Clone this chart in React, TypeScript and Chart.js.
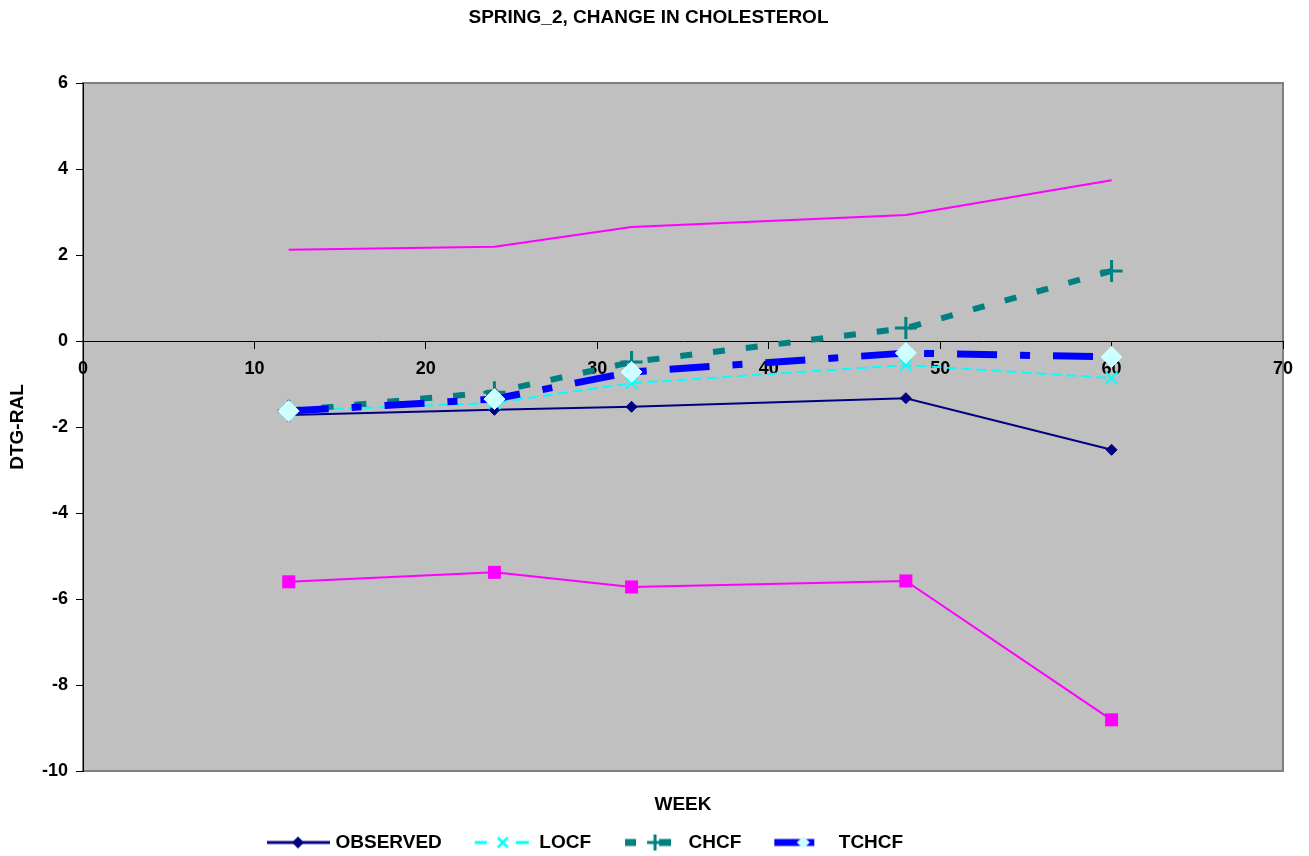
import React, { useEffect, useRef } from 'react';
import { Chart, registerables } from 'chart.js';

Chart.register(...registerables);

const TITLE = 'SPRING_2, CHANGE IN CHOLESTEROL';
const X_TITLE = 'WEEK';
const Y_TITLE = 'DTG-RAL';

const weeks = [12, 24, 32, 48, 60];
const observed = [-1.72, -1.6, -1.53, -1.33, -2.53];
const locf = [-1.62, -1.44, -0.98, -0.56, -0.86];
const chcf = [-1.62, -1.19, -0.49, 0.3, 1.63];
const tchcf = [-1.63, -1.35, -0.72, -0.28, -0.37];
const upperBound = [2.12, 2.19, 2.65, 2.93, 3.74];
const lowerBound = [-5.6, -5.38, -5.72, -5.58, -8.81];

const legendLabels = ['OBSERVED', 'LOCF', 'CHCF', 'TCHCF'];

const X_MIN = 0;
const X_MAX = 70;
const X_STEP = 10;
const Y_MIN = -10;
const Y_MAX = 6;
const Y_STEP = 2;

const FONT = 'Liberation Sans, Arial, Helvetica, sans-serif';

const toPoints = (vals: number[]) => vals.map((v, i) => ({ x: weeks[i], y: v }));

function makeImg(draw: (ctx: CanvasRenderingContext2D) => void) {
  const c = document.createElement('canvas');
  c.width = 100;
  c.height = 24;
  const ctx = c.getContext('2d') as CanvasRenderingContext2D;
  draw(ctx);
  return c;
}

function diamond(ctx: CanvasRenderingContext2D, cx: number, cy: number, r: number, color: string) {
  ctx.fillStyle = color;
  ctx.beginPath();
  ctx.moveTo(cx, cy - r);
  ctx.lineTo(cx + r, cy);
  ctx.lineTo(cx, cy + r);
  ctx.lineTo(cx - r, cy);
  ctx.closePath();
  ctx.fill();
}

function buildLegendImages() {
  const cy = 12;
  const obs = makeImg((ctx) => {
    ctx.strokeStyle = '#000080';
    ctx.lineWidth = 3;
    ctx.beginPath();
    ctx.moveTo(30, cy);
    ctx.lineTo(93, cy);
    ctx.stroke();
    diamond(ctx, 61, cy, 6, '#000080');
  });
  const lo = makeImg((ctx) => {
    ctx.strokeStyle = '#00FFFF';
    ctx.lineWidth = 3;
    ctx.beginPath();
    ctx.moveTo(34, cy);
    ctx.lineTo(46, cy);
    ctx.moveTo(75, cy);
    ctx.lineTo(88, cy);
    ctx.stroke();
    ctx.lineWidth = 2.5;
    ctx.beginPath();
    ctx.moveTo(57, cy - 5);
    ctx.lineTo(67, cy + 5);
    ctx.moveTo(67, cy - 5);
    ctx.lineTo(57, cy + 5);
    ctx.stroke();
  });
  const ch = makeImg((ctx) => {
    ctx.fillStyle = '#008080';
    ctx.fillRect(35, cy - 3.5, 11, 7);
    ctx.fillRect(69, cy - 3.5, 12, 7);
    ctx.strokeStyle = '#008080';
    ctx.lineWidth = 3;
    ctx.beginPath();
    ctx.moveTo(65, cy - 8);
    ctx.lineTo(65, cy + 8);
    ctx.moveTo(57, cy);
    ctx.lineTo(73, cy);
    ctx.stroke();
  });
  const tc = makeImg((ctx) => {
    ctx.fillStyle = '#0000FF';
    ctx.fillRect(34, cy - 3.5, 40, 7);
    diamond(ctx, 63, cy, 6.5, '#CCFFFF');
  });
  return [obs, lo, ch, tc];
}

const plotBackground = {
  id: 'plotBackground',
  beforeDraw(chart: any) {
    const { ctx, chartArea } = chart;
    const { left, top, right, bottom } = chartArea;
    ctx.save();
    ctx.fillStyle = '#C0C0C0';
    ctx.fillRect(left, top, right - left, bottom - top);
    ctx.strokeStyle = '#808080';
    ctx.lineWidth = 2;
    ctx.strokeRect(left, top, right - left, bottom - top);
    ctx.restore();
  },
};

const blockShift = {
  id: 'blockShift',
  afterLayout(chart: any) {
    const lg = chart.legend;
    if (lg) {
      const w = lg.right - lg.left;
      lg.left = 238;
      lg.right = lg.left + w;
    }
    const tb = chart.titleBlock;
    if (tb) {
      tb.left += 7;
      tb.right += 7;
    }
  },
};

export default function App() {
  const canvasRef = useRef<HTMLCanvasElement | null>(null);

  useEffect(() => {
    if (!canvasRef.current) return;
    const imgs = buildLegendImages();
    const tickFont = { family: FONT, size: 18, weight: 'bold' as const };
    const chart = new Chart(canvasRef.current, {
      type: 'line',
      data: {
        datasets: [
          {
            label: legendLabels[0],
            data: toPoints(observed),
            borderColor: '#000080',
            borderWidth: 2,
            pointStyle: 'rectRot',
            pointRadius: 5.5,
            pointBackgroundColor: '#000080',
            pointBorderColor: '#000080',
            pointBorderWidth: 1,
            order: 4,
          },
          {
            label: legendLabels[1],
            data: toPoints(locf),
            borderColor: '#00FFFF',
            borderWidth: 2,
            borderDash: [10, 5],
            pointStyle: 'crossRot',
            pointRadius: 8.5,
            pointBorderColor: '#00FFFF',
            pointBackgroundColor: '#00FFFF',
            pointBorderWidth: 2,
            order: 3,
          },
          {
            label: legendLabels[2],
            data: toPoints(chcf),
            borderColor: '#008080',
            borderWidth: 6,
            borderDash: [12, 21],
            pointStyle: 'cross',
            pointRadius: 11,
            pointBorderColor: '#008080',
            pointBackgroundColor: '#008080',
            pointBorderWidth: 3,
            order: 2,
          },
          {
            label: legendLabels[3],
            data: toPoints(tchcf),
            borderColor: '#0000FF',
            borderWidth: 7,
            borderDash: [40, 23, 10, 23],
            pointStyle: 'rectRot',
            pointRadius: 10.5,
            pointBackgroundColor: '#CCFFFF',
            pointBorderColor: '#CCFFFF',
            pointBorderWidth: 1,
            order: 1,
          },
          {
            label: 'upper',
            data: toPoints(upperBound),
            borderColor: '#FF00FF',
            borderWidth: 2,
            pointRadius: 0,
            order: 5,
          },
          {
            label: 'lower',
            data: toPoints(lowerBound),
            borderColor: '#FF00FF',
            borderWidth: 2,
            pointStyle: 'rect',
            pointRadius: 9.2,
            pointBackgroundColor: '#FF00FF',
            pointBorderColor: '#FF00FF',
            pointBorderWidth: 0,
            order: 6,
          },
        ],
      },
      options: {
        animation: false,
        responsive: false,
        layout: { padding: { left: 0, right: 26, top: 0, bottom: -6 } },
        elements: { line: { tension: 0 } },
        scales: {
          x: {
            type: 'linear',
            min: X_MIN,
            max: X_MAX,
            position: { y: 0 } as any,
            ticks: { stepSize: X_STEP, font: tickFont, color: '#000', padding: 10, maxRotation: 0 },
            grid: { drawOnChartArea: false, drawTicks: true, tickLength: 7, color: '#000' },
            border: { display: true, color: '#000', width: 1 },
          },
          y: {
            min: Y_MIN,
            max: Y_MAX,
            ticks: { stepSize: Y_STEP, font: tickFont, color: '#000', padding: 8 },
            grid: { drawOnChartArea: false, drawTicks: true, tickLength: 7, color: '#000' },
            border: { display: true, color: '#000', width: 1 },
            title: {
              display: true,
              text: Y_TITLE,
              color: '#000',
              font: { family: FONT, size: 19, weight: 'bold' },
              padding: { top: 6, bottom: 0 },
            },
            afterFit: (s: any) => {
              s.width = 83;
            },
          },
        },
        plugins: {
          title: {
            display: true,
            text: TITLE,
            color: '#000',
            font: { family: FONT, size: 19, weight: 'bold' },
            padding: { top: 6, bottom: 54.2 },
          },
          subtitle: {
            display: true,
            text: X_TITLE,
            position: 'bottom',
            fullSize: false,
            weight: 500,
            color: '#000',
            font: { family: FONT, size: 19, weight: 'bold' },
            padding: { top: 22, bottom: 7.2 },
          } as any,
          legend: {
            display: true,
            position: 'bottom',
            align: 'start',
            labels: {
              usePointStyle: true,
              pointStyleWidth: 78,
              padding: 10,
              color: '#000',
              font: { family: FONT, size: 19, weight: 'bold' },
              generateLabels: () =>
                legendLabels.map((text, i) => ({
                  text,
                  pointStyle: imgs[i] as any,
                  datasetIndex: i,
                  hidden: false,
                  fillStyle: 'rgba(0,0,0,0)',
                  strokeStyle: 'rgba(0,0,0,0)',
                  lineWidth: 0,
                  fontColor: '#000',
                })),
            },
          },
          tooltip: { enabled: false },
        },
      },
      plugins: [plotBackground, blockShift],
    });
    return () => chart.destroy();
  }, []);

  return (
    <div style={{ position: 'fixed', left: 0, top: 0, width: 1309, height: 856, background: '#fff' }}>
      <canvas ref={canvasRef} width={1309} height={856} style={{ display: 'block' }} />
    </div>
  );
}
